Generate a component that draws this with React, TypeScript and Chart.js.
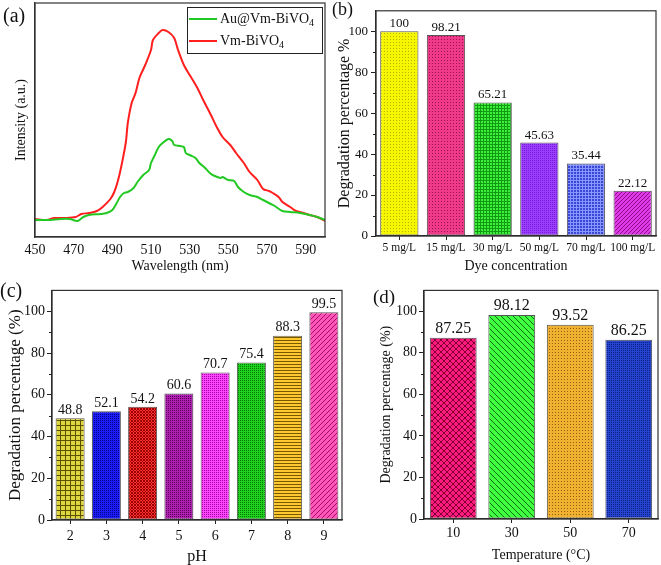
import React, { useEffect, useRef } from 'react';
import { Chart, registerables } from 'chart.js';

Chart.register(...registerables);

const FONT = '"Liberation Serif", "Times New Roman", serif';
Chart.defaults.font.family = FONT;
Chart.defaults.color = '#111';

// ---------- Panel (a): PL spectra ----------
const redWl = [450,456,460,466,471,474,478,482,485,489,491,493,495,497,498,500,502,504,507,510,511,514,516,519,522,524,527,530,534,537,541,544,547,551,554,558,561,565,568,571,573,576,578,582,585,589,592,596,600];
const redI = [18,17,19,19,20,23,24,26,30,38,45,57,74,95,114,134,144,159,172,187,197,204,207,205,199,187,172,162,149,137,122,110,100,92,84,74,65,57,48,46,44,40,35,30,26,24,22,20,16];
const greenWl = [450,458,463,468,472,475,478,484,487,490,492,494,496,498,501,503,506,509,510,512,514,516,519,521,522,525,527,528,530,533,535,538,541,543,546,547,550,553,555,558,561,565,568,572,574,578,582,587,592,596,600];
const greenI = [17,17,18,18,16,20,22,23,24,27,33,40,44,45,49,55,62,67,74,82,90,94,98,96,92,91,90,84,82,79,74,69,63,61,59,60,57,56,50,45,42,40,37,33,31,26,25,24,22,20,17];
const aTicks = [450,470,490,510,530,550,570,590];
const seriesNames = ['Au@Vm-BiVO', 'Vm-BiVO'];

// ---------- Panel (b): dye concentration ----------
const bLabels = ['5 mg/L','15 mg/L','30 mg/L','50 mg/L','70 mg/L','100 mg/L'];
const bValues = [100, 98.21, 65.21, 45.63, 35.44, 22.12];

// ---------- Panel (c): pH ----------
const cLabels = ['2','3','4','5','6','7','8','9'];
const cValues = [48.8, 52.1, 54.2, 60.6, 70.7, 75.4, 88.3, 99.5];

// ---------- Panel (d): temperature ----------
const dLabels = ['10','30','50','70'];
const dValues = [87.25, 98.12, 93.52, 86.25];

const yTicks = [0, 20, 40, 60, 80, 100];
const yMinor = [10, 30, 50, 70, 90];

type PatType = 'dots' | 'fine' | 'grid' | 'cross' | 'diagR' | 'diagL' | 'hlines';

function makePattern(bg: string, fg: string, type: PatType, size?: number) {
  const sizes: Record<string, number> = { dots: 3, fine: 2, grid: 5, cross: 6, diagR: 5, diagL: 6, hlines: 3 };
  const s = size || sizes[type];
  const c = document.createElement('canvas');
  c.width = s; c.height = s;
  const x = c.getContext('2d')!;
  x.fillStyle = bg; x.fillRect(0, 0, s, s);
  x.fillStyle = fg;
  if (type === 'dots' || type === 'fine') x.fillRect(0, 0, 1, 1);
  if (type === 'grid') { x.fillRect(0, 0, s, 1); x.fillRect(0, 0, 1, s); }
  if (type === 'hlines') x.fillRect(0, 0, s, 1);
  if (type === 'diagR' || type === 'cross') for (let i = 0; i < s; i++) x.fillRect(i, s - 1 - i, 1, 1);
  if (type === 'diagL' || type === 'cross') for (let i = 0; i < s; i++) x.fillRect(i, i, 1, 1);
  return x.createPattern(c, 'repeat');
}

const framePlugin = {
  id: 'frame',
  afterDraw(chart: any) {
    const { ctx, chartArea: a } = chart;
    ctx.save();
    ctx.strokeStyle = '#333';
    ctx.lineWidth = 1.2;
    ctx.strokeRect(a.left, a.top, a.right - a.left, a.bottom - a.top);
    ctx.restore();
  },
};

const minorPlugin = {
  id: 'minorTicks',
  afterDraw(chart: any) {
    const { ctx, chartArea: a } = chart;
    const y = chart.scales.y;
    ctx.save();
    ctx.strokeStyle = '#222';
    ctx.lineWidth = 1;
    yMinor.forEach((v) => {
      const py = Math.round(y.getPixelForValue(v)) + 0.5;
      ctx.beginPath();
      ctx.moveTo(a.left - 3, py);
      ctx.lineTo(a.left, py);
      ctx.stroke();
    });
    ctx.restore();
  },
};

function panelLabel(text: string, x: number, y: number, size: number) {
  return {
    id: 'panelLabel',
    afterDraw(chart: any) {
      const ctx = chart.ctx;
      ctx.save();
      ctx.font = `${size}px ${FONT}`;
      ctx.fillStyle = '#111';
      ctx.textBaseline = 'top';
      ctx.textAlign = 'left';
      ctx.fillText(text, x, y);
      ctx.restore();
    },
  };
}

function valueLabels(size: number) {
  return {
    id: 'valueLabels',
    afterDatasetsDraw(chart: any) {
      const ctx = chart.ctx;
      const meta = chart.getDatasetMeta(0);
      const vals = chart.data.datasets[0].data;
      ctx.save();
      ctx.font = `${size}px ${FONT}`;
      ctx.fillStyle = '#111';
      ctx.textAlign = 'center';
      ctx.textBaseline = 'bottom';
      meta.data.forEach((bar: any, i: number) => {
        ctx.fillText(String(vals[i]), bar.x, bar.y - 1);
      });
      ctx.restore();
    },
  };
}

const legendPlugin = {
  id: 'legendA',
  afterDraw(chart: any) {
    const ctx = chart.ctx;
    ctx.save();
    ctx.strokeStyle = '#222';
    ctx.lineWidth = 1;
    ctx.strokeRect(187.5, 7.5, 135, 46);
    const rows = [
      { y: 19, color: chart.data.datasets[0].borderColor, name: seriesNames[0] },
      { y: 41, color: chart.data.datasets[1].borderColor, name: seriesNames[1] },
    ];
    rows.forEach((r) => {
      ctx.strokeStyle = r.color;
      ctx.lineWidth = 2;
      ctx.beginPath();
      ctx.moveTo(189, r.y);
      ctx.lineTo(217, r.y);
      ctx.stroke();
      ctx.fillStyle = '#111';
      ctx.textBaseline = 'middle';
      ctx.textAlign = 'left';
      ctx.font = `14px ${FONT}`;
      ctx.fillText(r.name, 220, r.y);
      const w = ctx.measureText(r.name).width;
      ctx.font = `10px ${FONT}`;
      ctx.fillText('4', 220 + w, r.y + 4);
    });
    ctx.restore();
  },
};

function lineConfig(): any {
  return {
    type: 'line',
    data: {
      datasets: [
        {
          label: 'Au@Vm-BiVO4',
          data: greenWl.map((w, i) => ({ x: w, y: greenI[i] })),
          borderColor: '#22c922',
          borderWidth: 2,
          pointRadius: 0,
          tension: 0.3,
        },
        {
          label: 'Vm-BiVO4',
          data: redWl.map((w, i) => ({ x: w, y: redI[i] })),
          borderColor: '#ff1f1f',
          borderWidth: 2,
          pointRadius: 0,
          tension: 0.3,
        },
      ],
    },
    options: {
      responsive: false,
      animation: false,
      layout: { padding: { left: 0, top: 3, right: 5, bottom: 0 } },
      plugins: { legend: { display: false }, tooltip: { enabled: false } },
      scales: {
        x: {
          type: 'linear',
          min: 450,
          max: 600,
          afterBuildTicks: (s: any) => { s.ticks = aTicks.map((v) => ({ value: v })); },
          grid: { display: false, drawTicks: false },
          border: { color: '#333', width: 1.2 },
          ticks: { font: { size: 14 }, padding: 5, maxRotation: 0, autoSkip: false },
          title: { display: true, text: 'Wavelength (nm)', font: { size: 14 }, padding: { top: 0, bottom: 5 } },
          afterFit: (s: any) => { s.height = 43; },
        },
        y: {
          min: 0,
          max: 234,
          grid: { display: false, drawTicks: false },
          border: { color: '#333', width: 1.2 },
          ticks: { display: false },
          title: { display: true, text: 'Intensity (a.u.)', font: { size: 14 }, padding: { top: 13, bottom: 0 } },
          afterFit: (s: any) => { s.width = 35; },
        },
      },
    },
    plugins: [framePlugin, legendPlugin, panelLabel('(a)', 3, 7, 20)],
  };
}

interface BarSpec {
  labels: string[];
  values: number[];
  fills: any[];
  barPct: number;
  pad: any;
  xH: number;
  yW: number;
  xTickSize: number;
  xTickPad: number;
  xTitle: string;
  xTitleSize: number;
  xTitlePad: number;
  yTickSize: number;
  yTickPad: number;
  yTitle: string;
  yTitleSize: number;
  yTitlePad: number;
  valSize: number;
  label: [string, number, number, number];
}

function barConfig(p: BarSpec): any {
  return {
    type: 'bar',
    data: {
      labels: p.labels,
      datasets: [
        {
          data: p.values,
          backgroundColor: p.fills,
          borderColor: '#555',
          borderWidth: 1,
          borderSkipped: false,
          barPercentage: p.barPct,
          categoryPercentage: 1,
        },
      ],
    },
    options: {
      responsive: false,
      animation: false,
      layout: { padding: p.pad },
      plugins: { legend: { display: false }, tooltip: { enabled: false } },
      scales: {
        x: {
          grid: { display: true, drawOnChartArea: false, offset: false, tickLength: 4, color: '#222' },
          border: { color: '#222', width: 1.2 },
          ticks: { font: { size: p.xTickSize }, padding: p.xTickPad, maxRotation: 0, autoSkip: false },
          title: { display: true, text: p.xTitle, font: { size: p.xTitleSize }, padding: { top: 0, bottom: p.xTitlePad } },
          afterFit: (s: any) => { s.height = p.xH; },
        },
        y: {
          min: 0,
          max: 110,
          afterBuildTicks: (s: any) => { s.ticks = yTicks.map((v) => ({ value: v })); },
          grid: { display: true, drawOnChartArea: false, tickLength: 5, color: '#222' },
          border: { color: '#222', width: 1.2 },
          ticks: { font: { size: p.yTickSize }, padding: p.yTickPad },
          title: { display: true, text: p.yTitle, font: { size: p.yTitleSize }, padding: { top: p.yTitlePad, bottom: 0 } },
          afterFit: (s: any) => { s.width = p.yW; },
        },
      },
    },
    plugins: [framePlugin, minorPlugin, valueLabels(p.valSize), panelLabel(p.label[0], p.label[1], p.label[2], p.label[3])],
  };
}

function configB() {
  return barConfig({
    labels: bLabels,
    values: bValues,
    fills: [
      makePattern('#f6f600', '#b5b500', 'dots'),
      makePattern('#ee3a88', '#9a1050', 'dots'),
      makePattern('#3cf03c', '#139a13', 'grid', 3),
      makePattern('#9b3cff', '#7020d0', 'fine'),
      makePattern('#3a48d8', '#8a96ff', 'grid', 3),
      makePattern('#e03ae8', '#8a108a', 'diagR', 4),
    ],
    barPct: 0.82,
    pad: { left: 0, top: 3, right: 5, bottom: 0 },
    xH: 44,
    yW: 46,
    xTickSize: 11.5,
    xTickPad: 1,
    xTitle: 'Dye concentration',
    xTitleSize: 14,
    xTitlePad: 5,
    yTickSize: 13,
    yTickPad: 3,
    yTitle: 'Degradation percentage %',
    yTitleSize: 16,
    yTitlePad: 5,
    valSize: 13,
    label: ['(b)', 2, 1, 18],
  });
}

function configC() {
  return barConfig({
    labels: cLabels,
    values: cValues,
    fills: [
      makePattern('#ded640', '#5a5200', 'grid', 5),
      makePattern('#1c1cf4', '#000090', 'fine'),
      makePattern('#ff3030', '#9a0000', 'cross', 3),
      makePattern('#b020b0', '#5a005a', 'fine'),
      makePattern('#ff44ff', '#a000a0', 'fine'),
      makePattern('#1ed21e', '#007400', 'fine'),
      makePattern('#ffc830', '#7a5a00', 'hlines', 3),
      makePattern('#ff55bb', '#a01060', 'diagR', 5),
    ],
    barPct: 0.8,
    pad: { left: 0, top: 8, right: 3, bottom: 0 },
    xH: 45,
    yW: 52,
    xTickSize: 14,
    xTickPad: 4,
    xTitle: 'pH',
    xTitleSize: 16,
    xTitlePad: -1,
    yTickSize: 14,
    yTickPad: 2,
    yTitle: 'Degradation percentage (%)',
    yTitleSize: 17,
    yTitlePad: 5,
    valSize: 14,
    label: ['(c)', 0, 2, 20],
  });
}

function configD() {
  return barConfig({
    labels: dLabels,
    values: dValues,
    fills: [
      makePattern('#ff1a80', '#800030', 'cross', 6),
      makePattern('#40ff40', '#107010', 'diagL', 6),
      makePattern('#f0b030', '#906010', 'dots'),
      makePattern('#2444d0', '#102080', 'fine'),
    ],
    barPct: 0.8,
    pad: { left: 0, top: 7, right: 3, bottom: 0 },
    xH: 46,
    yW: 79,
    xTickSize: 14,
    xTickPad: 2,
    xTitle: 'Temperature (°C)',
    xTitleSize: 14,
    xTitlePad: 1,
    yTickSize: 14,
    yTickPad: 2,
    yTitle: 'Degradation percentage (%)',
    yTitleSize: 14,
    yTitlePad: 33,
    valSize: 16,
    label: ['(d)', 28, 9, 19],
  });
}

function ChartBox(props: { left: number; top: number; width: number; height: number; make: () => any }) {
  const ref = useRef<HTMLCanvasElement | null>(null);
  useEffect(() => {
    const chart = new Chart(ref.current as HTMLCanvasElement, props.make());
    return () => chart.destroy();
  }, []);
  return (
    <canvas
      ref={ref}
      width={props.width}
      height={props.height}
      style={{ position: 'absolute', left: props.left, top: props.top, width: props.width, height: props.height }}
    />
  );
}

export default function App() {
  return (
    <div style={{ position: 'fixed', left: 0, top: 0, width: 661, height: 565, background: '#fff', overflow: 'hidden' }}>
      <ChartBox left={0} top={0} width={330} height={280} make={lineConfig} />
      <ChartBox left={330} top={0} width={331} height={280} make={configB} />
      <ChartBox left={0} top={280} width={345} height={285} make={configC} />
      <ChartBox left={345} top={280} width={316} height={285} make={configD} />
    </div>
  );
}
